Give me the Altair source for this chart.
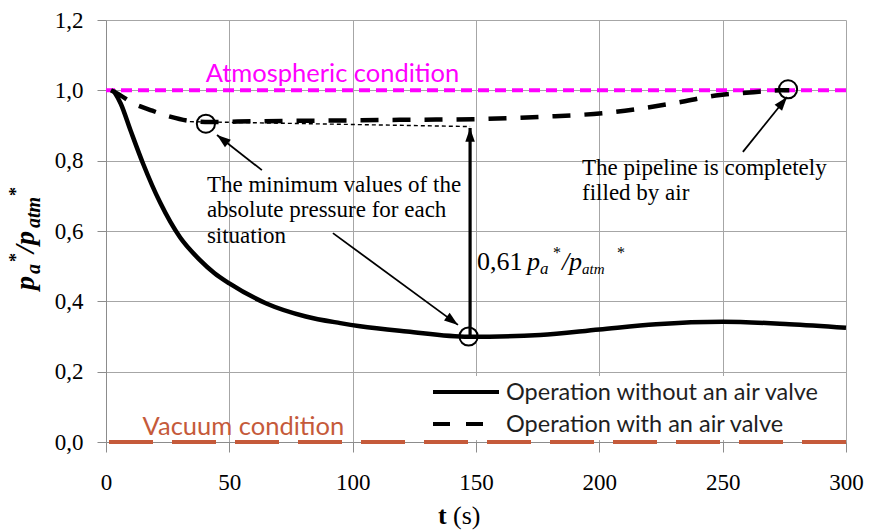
import math
import altair as alt
import pandas as pd

# ---------------- data ----------------
t_without = [3, 6, 10, 15, 22, 30, 38, 44, 50, 65, 81, 95, 103, 122, 147, 176, 200, 223, 250, 277, 300]
p_without = [1.0, 0.962, 0.885, 0.792, 0.680, 0.582, 0.518, 0.480, 0.451, 0.394, 0.357, 0.338, 0.329,
             0.314, 0.299, 0.304, 0.320, 0.335, 0.342, 0.335, 0.325]
t_with = [2, 6, 11, 18, 26, 34, 42, 60, 90, 119, 149, 177, 203, 230, 249, 261, 273, 277]
p_with = [1.0, 0.985, 0.963, 0.944, 0.925, 0.913, 0.910, 0.912, 0.914, 0.916, 0.918, 0.925,
          0.936, 0.963, 0.987, 0.994, 1.0, 1.0]

x_ticks = [0, 50, 100, 150, 200, 250, 300]
y_ticks = [0.0, 0.2, 0.4, 0.6, 0.8, 1.0, 1.2]

circle_t = [40.5, 147.0, 276.5]
circle_p = [0.905, 0.300, 1.003]

# arrows: start -> tip (data units)
arrow_t0 = [63.2, 92.0, 258.2, 147.6]
arrow_p0 = [0.773, 0.594, 0.825, 0.299]
arrow_t1 = [45.0, 142.7, 276.1, 147.6]
arrow_p1 = [0.873, 0.333, 0.981, 0.893]
arrow_w = [1.8, 1.8, 1.8, 3.2]

guide_t = [34, 147.6]
guide_p = [0.911, 0.897]

min_lines = ["The minimum values of the", "absolute pressure for each", "situation"]
min_p = [0.712, 0.641, 0.567]
pipe_lines = ["The pipeline is completely", "filled by air"]
pipe_p = [0.759, 0.688]

# ---------------- layout ----------------
W, H = 740, 422
L, T = 106, 20
SX, SY = W / 300, H / 1.2

def px(x):
    return x - L

def py(y):
    return y - T

xs = alt.Scale(domain=[0, 300], nice=False, zero=False)
ys = alt.Scale(domain=[0, 1.2], nice=False, zero=False)

fmt = "replace(format(datum.value, '.1f'), '.', ',')"
x_axis = alt.Axis(values=x_ticks, title=None, labelFont="Liberation Serif", labelFontSize=23,
                  labelColor="black", tickSize=10, tickColor="#8c8c8c", domainColor="#8c8c8c",
                  gridColor="#a6a6a6", labelPadding=19, format="d", labelFlush=False)
y_axis = alt.Axis(values=y_ticks, title=None, labelFont="Liberation Serif", labelFontSize=23,
                  labelColor="black", tickSize=9, tickColor="#8c8c8c", domainColor="#8c8c8c",
                  gridColor="#a6a6a6", labelPadding=14, labelExpr=fmt, labelFlush=False)

one = pd.DataFrame({"k": [0]})

def X(field="t"):
    return alt.X(f"{field}:Q", scale=xs, axis=x_axis)

def Y(field="p"):
    return alt.Y(f"{field}:Q", scale=ys, axis=y_axis)

# axes/grid carrier
grid = alt.Chart(pd.DataFrame({"t": [0, 300], "p": [0, 1.2]})).mark_point(opacity=0).encode(
    x=X(), y=Y())

legend_bg = alt.Chart(one).mark_rect(color="white").encode(
    x=alt.value(px(425)), x2=alt.value(px(846)), y=alt.value(py(376)), y2=alt.value(py(440)))

atm_line = alt.Chart(pd.DataFrame({"p": [1.0]})).mark_rule(
    color="#ff00ff", strokeWidth=4, strokeDash=[11, 6]).encode(y=Y())
vac_line = alt.Chart(pd.DataFrame({"p": [0.0]})).mark_rule(
    color="#c55a3a", strokeWidth=4, strokeDash=[44, 19]).encode(y=Y())

df_without = pd.DataFrame({"t": t_without, "p": p_without})
df_with = pd.DataFrame({"t": t_with, "p": p_with})

solid = alt.Chart(df_without).mark_line(color="black", strokeWidth=4.5, interpolate="monotone").encode(
    x=X(), y=Y())
dashed = alt.Chart(df_with).mark_line(color="black", strokeWidth=4.5, strokeDash=[18, 14],
                                      interpolate="monotone").encode(x=X(), y=Y())

guide = alt.Chart(pd.DataFrame({"t": [guide_t[0]], "p": [guide_p[0]], "t2": [guide_t[1]], "p2": [guide_p[1]]})
                  ).mark_rule(color="black", strokeWidth=1.4, strokeDash=[4, 3]).encode(
    x=X(), y=Y(), x2="t2:Q", y2="p2:Q")

angles = []
for a0, b0, a1, b1 in zip(arrow_t0, arrow_p0, arrow_t1, arrow_p1):
    dx = (a1 - a0) * SX
    dy = -(b1 - b0) * SY
    angles.append(math.degrees(math.atan2(dx, -dy)) % 360)

df_arrows = pd.DataFrame({"t": arrow_t0, "p": arrow_p0, "t2": arrow_t1, "p2": arrow_p1,
                          "w": arrow_w, "ang": angles})
arrow_lines = alt.Chart(df_arrows).mark_rule(color="black").encode(
    x=X(), y=Y(), x2="t2:Q", y2="p2:Q", strokeWidth=alt.StrokeWidth("w:Q", scale=None))
arrow_heads = alt.Chart(df_arrows).mark_point(
    shape="M0,0L-0.55,1.6L0.55,1.6Z", filled=True, color="black", opacity=1, size=300).encode(
    x=X("t2"), y=Y("p2"), angle=alt.Angle("ang:Q", scale=None))

circles = alt.Chart(pd.DataFrame({"t": circle_t, "p": circle_p})).mark_point(
    shape="circle", filled=False, color="black", strokeWidth=2, size=330, opacity=1).encode(
    x=X(), y=Y())

# ---------------- texts ----------------
atm_text = alt.Chart(pd.DataFrame({"t": [91.8], "p": [1.024], "s": ["Atmospheric condition"]})).mark_text(
    font="Lato", fontSize=25.5, color="#ff00ff", align="center", baseline="alphabetic").encode(
    x=X(), y=Y(), text="s:N")
vac_text = alt.Chart(pd.DataFrame({"t": [55.7], "p": [0.020], "s": ["Vacuum condition"]})).mark_text(
    font="Lato", fontSize=25.5, color="#c55a3a", align="center", baseline="alphabetic").encode(
    x=X(), y=Y(), text="s:N")

min_text = alt.Chart(pd.DataFrame({"t": [40.9] * 3, "p": min_p, "s": min_lines})).mark_text(
    font="Liberation Serif", fontSize=23, color="black", align="left", baseline="alphabetic").encode(
    x=X(), y=Y(), text="s:N")
pipe_text = alt.Chart(pd.DataFrame({"t": [193.0] * 2, "p": pipe_p, "s": pipe_lines})).mark_text(
    font="Liberation Serif", fontSize=23, color="black", align="left", baseline="alphabetic").encode(
    x=X(), y=Y(), text="s:N")

def ptext(s, x, y, size, style="normal", weight="normal", angle=0, color="black", font="Liberation Serif"):
    kw = dict(text=s, font=font, fontSize=size, fontStyle=style, fontWeight=weight, color=color,
              align="left", baseline="alphabetic")
    if angle:
        kw["angle"] = angle
    return alt.Chart(one).mark_text(**kw).encode(x=alt.value(px(x)), y=alt.value(py(y)))

# 0,61 p_a*/p_atm*
diff_parts = [
    ptext("0,61", 477, 270, 26),
    ptext("p", 527, 270, 26, style="italic"),
    ptext("a", 540, 274, 17, style="italic"),
    ptext("*", 553, 258, 16),
    ptext("/", 562, 270, 26, style="italic"),
    ptext("p", 569, 270, 26, style="italic"),
    ptext("atm", 582, 274, 15, style="italic"),
    ptext("*", 617, 258, 16),
]

# y-axis title (rotated)
ytitle = [
    ptext("p", 34, 290, 28, style="italic", weight="bold", angle=270),
    ptext("a", 40, 274, 20, style="italic", weight="bold", angle=270),
    ptext("*", 22, 262, 18, weight="bold", angle=270),
    ptext("/", 34, 253, 28, style="italic", weight="bold", angle=270),
    ptext("p", 34, 245, 28, style="italic", weight="bold", angle=270),
    ptext("atm", 40, 228, 20, style="italic", weight="bold", angle=270),
    ptext("*", 22, 196, 18, weight="bold", angle=270),
]

# x-axis title
xtitle = [
    ptext("t", 438, 524, 26, weight="bold"),
    ptext("(s)", 453, 524, 26),
]

# legend
leg_solid = alt.Chart(one).mark_rule(color="black", strokeWidth=4).encode(
    x=alt.value(px(433)), x2=alt.value(px(499)), y=alt.value(py(392)), y2=alt.value(py(392)))
leg_dash = alt.Chart(one).mark_rule(color="black", strokeWidth=4, strokeDash=[17, 16]).encode(
    x=alt.value(px(433)), x2=alt.value(px(483)), y=alt.value(py(424)), y2=alt.value(py(424)))
leg_t1 = ptext("Operation without an air valve", 506, 400, 23.5, color="#1f1f1f", font="Lato")
leg_t2 = ptext("Operation with an air valve", 506, 432, 23.5, color="#1f1f1f", font="Lato")

chart = alt.layer(
    grid, legend_bg, atm_line, vac_line, solid, dashed, guide, arrow_lines, arrow_heads, circles,
    atm_text, vac_text, min_text, pipe_text, *diff_parts, *ytitle, *xtitle,
    leg_solid, leg_dash, leg_t1, leg_t2,
).properties(
    width=W, height=H,
    padding={"left": L, "top": T, "right": 869 - L - W, "bottom": 532 - T - H},
    autosize=alt.AutoSizeParams(type="none"),
    background="white",
).configure_view(stroke=None)

chart.save("out.html", embed_options={"renderer": "svg", "actions": False})
